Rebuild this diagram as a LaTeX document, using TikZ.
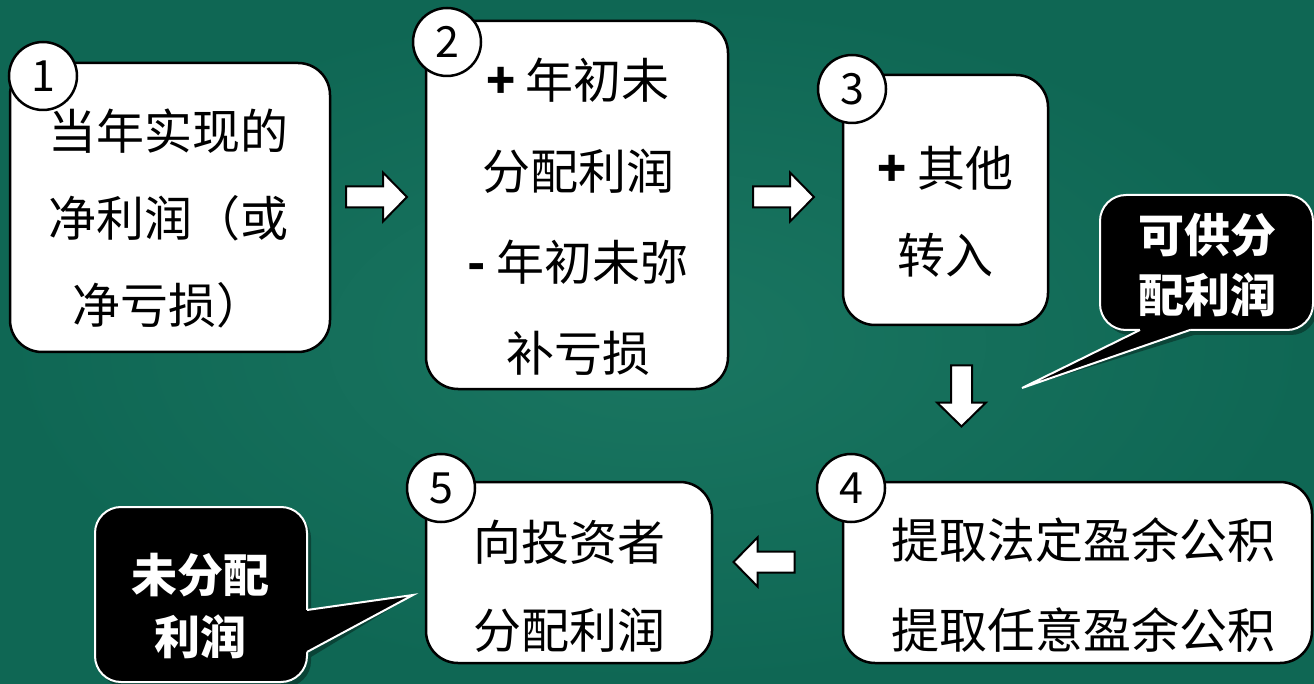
\documentclass[tikz,border=0pt]{standalone}
\usepackage{fontspec}
\setmainfont{Noto Sans CJK SC}
\definecolor{bgin}{RGB}{26,118,97}
\definecolor{bgout}{RGB}{15,103,84}
\tikzset{
  stepbox/.style={draw=black, line width=2.5pt, fill=white, rounded corners=32pt, inner sep=0pt},
  numcirc/.style={circle, draw=black, line width=2.5pt, fill=white, minimum size=68pt, inner sep=0pt, text=black, font=\fontsize{43}{45}\selectfont},
  boxtext/.style={align=center, inner sep=0pt, text=black},
  callbox/.style={fill=black, draw=white, line width=2pt, rounded corners=26pt},
  calltext/.style={align=center, inner sep=0pt, text=white, font=\bfseries\fontsize{46}{60}\selectfont},
  blkarrow/.style={fill=white, draw=black, line width=2pt, line join=miter},
  blockarr/.pic={\draw[blkarrow] (-30.5,-10.5) -- (6.5,-10.5) -- (6.5,-24.5) -- (30.5,0) -- (6.5,24.5) -- (6.5,10.5) -- (-30.5,10.5) -- cycle;},
}
\begin{document}
\begin{tikzpicture}[x=1pt, y=-1pt]
\useasboundingbox (0,0) rectangle (1314,684);
\shade[inner color=bgin, outer color=bgout] (0,0) rectangle (1314,684);

% block arrows
\pic at (376.5,197) {blockarr};
\pic at (783.5,197) {blockarr};
\pic[rotate=-90] at (961.5,396) {blockarr};
\pic[rotate=180] at (764,562) {blockarr};

% boxes
\node[stepbox, minimum width=320pt, minimum height=289pt] (b1) at (170,207.5) {};
\node[stepbox, minimum width=302pt, minimum height=368pt] (b2) at (577,205) {};
\node[stepbox, minimum width=205pt, minimum height=250pt] (b3) at (945.5,200) {};
\node[stepbox, minimum width=469pt, minimum height=181pt] (b4) at (1077.5,572.5) {};
\node[stepbox, minimum width=286pt, minimum height=181pt] (b5) at (569,572.5) {};

% box texts
\node[boxtext, font=\fontsize{48}{87}\selectfont] (t1) at (168,218.5) {当年实现的\\净利润（或\\净亏损）};
\node[boxtext, font=\fontsize{48}{91}\selectfont] (t2) at (578,216.5) {\textbf{+} 年初未\\分配利润\\\textbf{-} 年初未弥\\补亏损};
\node[boxtext, font=\fontsize{48}{87}\selectfont] (t3) at (945,211.5) {\textbf{+} 其他\\转入};
\node[boxtext, font=\fontsize{48}{90}\selectfont] (t4) at (1083,585) {提取法定盈余公积\\提取任意盈余公积};
\node[boxtext, font=\fontsize{48}{88}\selectfont] (t5) at (569,586) {向投资者\\分配利润};

% number circles
\node[numcirc] (c1) at (43,76) {1};
\node[numcirc] (c2) at (447,42) {2};
\node[numcirc] (c3) at (852,89) {3};
\node[numcirc] (c4) at (851,488) {4};
\node[numcirc] (c5) at (441,488) {5};

% callout 1
\coordinate (tip1) at (1022,388);
\begin{scope}[transparency group, opacity=0.35, shift={(4,5)}]
  \fill[black, rounded corners=26pt] (1100,195) rectangle (1313,330);
  \fill[black] (1140,322) -- (1190,322) -- (1190,330) -- (tip1) -- (1140,330) -- cycle;
\end{scope}
\draw[callbox] (1100,195) rectangle (1313,330);
\fill[black] (1140,330) -- (1140,322) -- (1190,322) -- (1190,330) -- (tip1) -- cycle;
\draw[white, line width=2pt, line join=miter] (1140,330) -- (tip1) -- (1190,330);
\node[calltext] (k1) at (1207,265) {可供分\\配利润};

% callout 2
\coordinate (tip2) at (413,595);
\begin{scope}[transparency group, opacity=0.35, shift={(4,5)}]
  \fill[black, rounded corners=26pt] (95,507) rectangle (307,682);
  \fill[black] (299,610) -- (307,610) -- (tip2) -- (307,652) -- (299,652) -- cycle;
\end{scope}
\draw[callbox] (95,507) rectangle (307,682);
\fill[black] (307,610) -- (299,610) -- (299,652) -- (307,652) -- (tip2) -- cycle;
\draw[white, line width=2pt, line join=miter] (307,610) -- (tip2) -- (307,652);
\node[calltext, font=\bfseries\fontsize{46}{62}\selectfont] (k2) at (200,606) {未分配\\利润};
\end{tikzpicture}
\end{document}
